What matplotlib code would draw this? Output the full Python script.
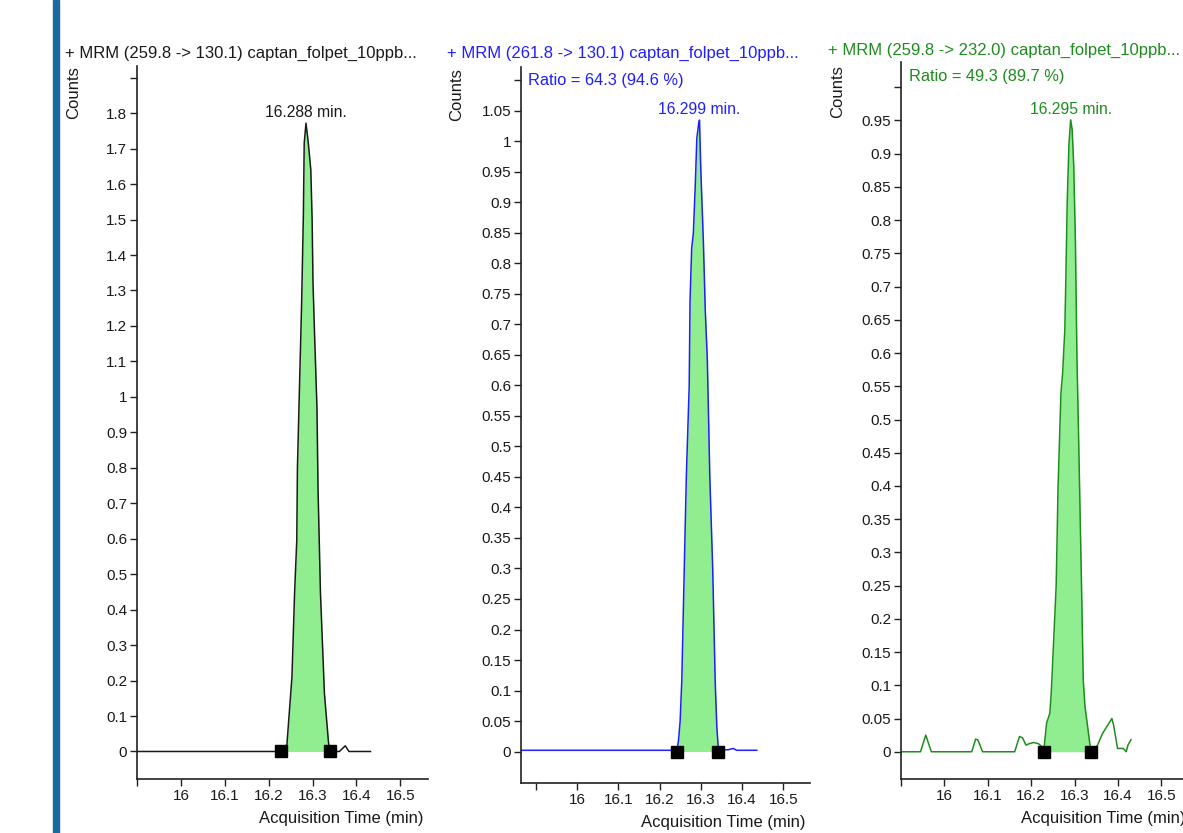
import numpy as np
import matplotlib
matplotlib.use("Agg")
import matplotlib.pyplot as plt
from matplotlib.patches import Rectangle

plt.rcParams["font.family"] = ["Liberation Sans", "DejaVu Sans"]

W, H = 1183, 833

# ----- data -----
t1 = [15.85, 16.228, 16.2416, 16.253, 16.259, 16.264, 16.2655, 16.275, 16.279, 16.281,
      16.285, 16.29, 16.296, 16.299, 16.301, 16.305, 16.31, 16.3125, 16.318, 16.327,
      16.336, 16.339, 16.361, 16.3745, 16.383, 16.432]
c1 = [0, 0, 0.02, 0.21, 0.446, 0.595, 0.80, 1.26, 1.51, 1.716,
      1.772, 1.72, 1.64, 1.50, 1.32, 1.16, 0.97, 0.737, 0.446, 0.164,
      0.03, 0, 0, 0.016, 0, 0]

t2 = [15.80, 16.242, 16.246, 16.25, 16.254, 16.26, 16.265, 16.272, 16.274, 16.278,
      16.282, 16.2864, 16.2905, 16.295, 16.297, 16.300, 16.3065, 16.311, 16.316, 16.322,
      16.329, 16.335, 16.339, 16.343, 16.367, 16.379, 16.387, 16.436]
c2 = [0.002, 0.002, 0.018, 0.05, 0.116, 0.30, 0.45, 0.6, 0.739, 0.825,
      0.849, 0.923, 1.005, 1.03, 1.035, 0.957, 0.833, 0.723, 0.641, 0.45,
      0.30, 0.116, 0.04, 0.002, 0.003, 0.005, 0.002, 0.002]

t3 = [15.88, 15.945, 15.957, 15.97, 16.063, 16.072, 16.077, 16.088, 16.162, 16.173,
      16.18, 16.188, 16.195, 16.206, 16.217, 16.2296, 16.2355, 16.243, 16.2466, 16.2576,
      16.262, 16.2686, 16.2725, 16.2775, 16.28, 16.283, 16.287, 16.291, 16.2945, 16.298,
      16.302, 16.3055, 16.31, 16.316, 16.32, 16.324, 16.335, 16.3386, 16.353, 16.364,
      16.386, 16.39, 16.399, 16.412, 16.419, 16.423, 16.43]
c3 = [0, 0, 0.025, 0, 0, 0.019, 0.018, 0, 0, 0.023,
      0.021, 0.01, 0.012, 0.014, 0.012, 0.005, 0.043, 0.058, 0.093, 0.25,
      0.40, 0.54, 0.57, 0.635, 0.715, 0.826, 0.914, 0.951, 0.936, 0.883,
      0.766, 0.593, 0.45, 0.25, 0.108, 0.068, 0.013, 0, 0.01, 0.027,
      0.05, 0.04, 0.005, 0.005, 0, 0.01, 0.018]

starts = [16.228, 16.242, 16.2296]
ends = [16.339, 16.343, 16.3386]
rts = ["16.288 min.", "16.299 min.", "16.295 min."]
titles = ["+ MRM (259.8 -> 130.1) captan_folpet_10ppb...",
          "+ MRM (261.8 -> 130.1) captan_folpet_10ppb...",
          "+ MRM (259.8 -> 232.0) captan_folpet_10ppb..."]
ratios = [None, "Ratio = 64.3 (94.6 %)", "Ratio = 49.3 (89.7 %)"]
colors = ["#1a1a1a", "#1f1fff", "#1e8c1e"]

xticks = [15.9, 16.0, 16.1, 16.2, 16.3, 16.4, 16.5]
ystep = [0.1, 0.05, 0.05]
ytop_tick = [1.9, 1.1, 1.0]

# panel boxes in pixels: left, right, top, bottom ; limits
boxes = [(137, 428, 66, 779), (521, 810, 67, 783), (901, 1190, 62, 779)]
xlims = [(15.91, 16.563), (15.864, 16.565), (15.929, 16.566)]
ylims = [(-0.0776, 1.933), (-0.0516, 1.122), (-0.041, 1.038)]
title_pos = [(65, 53), (447, 53), (828, 50)]
counts_pos = [(74, 93), (457, 95), (838, 92)]
ratio_pos = [None, (528, 80), (909, 77)]

FILL = "#90ee90"
TXT = "#1a1a1a"

fig = plt.figure(figsize=(W / 100, H / 100), dpi=100)
fig.patches.append(Rectangle((53 / W, 0), 6 / W, 1, transform=fig.transFigure,
                             color="#1a6aa0", zorder=0))

data = [(t1, c1), (t2, c2), (t3, c3)]
for i, (t, c) in enumerate(data):
    l, r, top, b = boxes[i]
    ax = fig.add_axes([l / W, 1 - b / H, (r - l) / W, (b - top) / H])
    t = np.array(t)
    c = np.array(c)
    col = colors[i]

    mask = (t >= starts[i]) & (t <= ends[i])
    ax.fill_between(t, c, 0, where=mask, color=FILL, lw=0, zorder=1)
    ax.plot(t, c, color=col, lw=1.1, zorder=2)
    ax.plot([starts[i], ends[i]], [0, 0], "s", color="black", ms=8.5, zorder=5)
    ipk = int(np.argmax(c))
    ax.annotate(rts[i], (t[ipk], c[ipk]), xytext=(0, 2), textcoords="offset points",
                ha="center", va="bottom", fontsize=11.3, color=col)

    ax.set_xlim(*xlims[i])
    ax.set_ylim(*ylims[i])
    for s in ["top", "right"]:
        ax.spines[s].set_visible(False)
    for s in ["left", "bottom"]:
        ax.spines[s].set_linewidth(1.2)
        ax.spines[s].set_color("#222222")

    yt = np.round(np.arange(0, ytop_tick[i] + 1e-6, ystep[i]), 2)
    ax.set_yticks(yt)
    ax.set_yticklabels([f"{v:g}" for v in yt[:-1]] + [""])
    ax.set_xticks(xticks)
    ax.set_xticklabels([""] + [f"{v:g}" for v in xticks[1:]])
    ax.tick_params(length=5, width=1, color="#222222", labelsize=11,
                   labelcolor=TXT, pad=2)

    ax.set_xlabel("Acquisition Time (min)", fontsize=12, color=TXT,
                  loc="right", labelpad=6)
    ax.xaxis.label.set_x(0.985)

    tx, ty = title_pos[i]
    fig.text(tx / W, 1 - ty / H, titles[i], fontsize=12, color=col,
             ha="left", va="center")
    cx, cy = counts_pos[i]
    fig.text(cx / W, 1 - cy / H, "Counts", fontsize=12, color=TXT,
             rotation=90, ha="center", va="center")
    if ratios[i]:
        rx, ry = ratio_pos[i]
        fig.text(rx / W, 1 - ry / H, ratios[i], fontsize=11.8, color=col,
                 ha="left", va="center")

fig.savefig("out.png", dpi=100, facecolor="white")
